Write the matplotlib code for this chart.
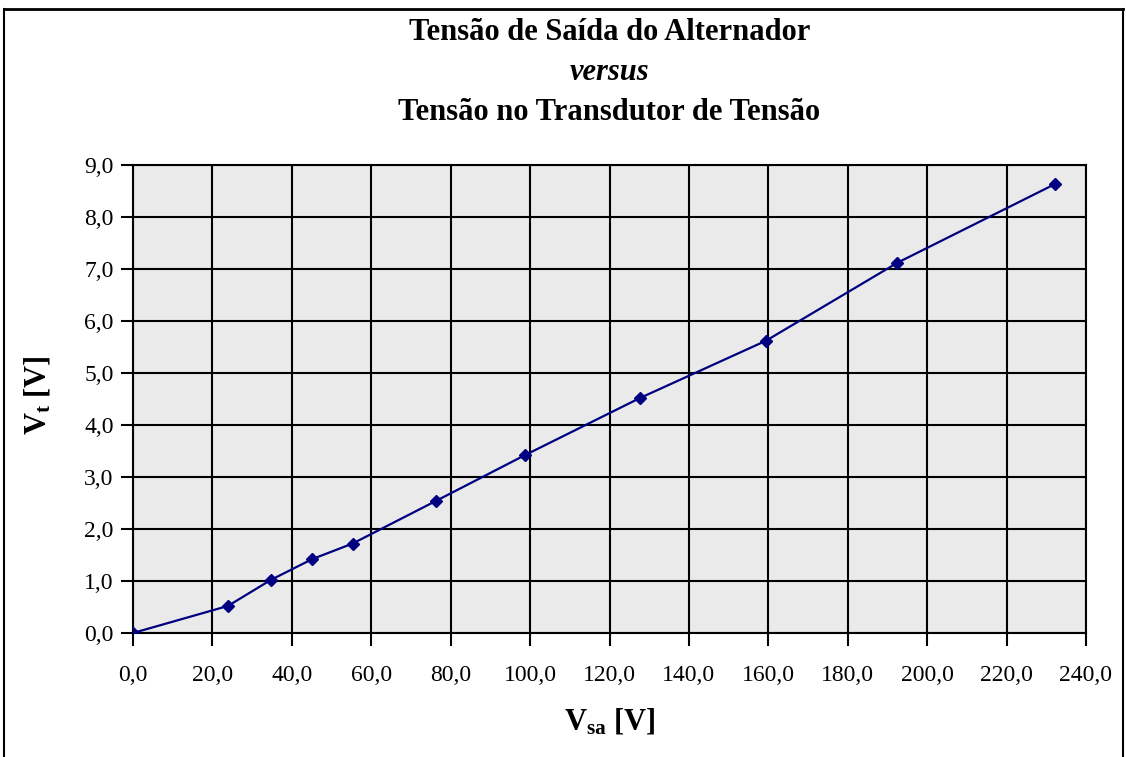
import matplotlib
matplotlib.use("Agg")
import matplotlib.pyplot as plt
from matplotlib.ticker import FuncFormatter, MultipleLocator
from matplotlib.lines import Line2D

vsa = [0.0, 23.9, 34.7, 45.1, 55.3, 76.3, 98.7, 127.7, 159.4, 192.5, 232.1]
vt = [0.0, 0.52, 1.02, 1.42, 1.72, 2.54, 3.42, 4.52, 5.62, 7.12, 8.63]
title_lines = ["Tensão de Saída do Alternador", "versus", "Tensão no Transdutor de Tensão"]

plt.rcParams['font.family'] = ['Liberation Serif', 'DejaVu Serif']
plt.rcParams['mathtext.fontset'] = 'custom'
plt.rcParams['mathtext.rm'] = 'Liberation Serif'
plt.rcParams['mathtext.bf'] = 'Liberation Serif:bold'
plt.rcParams['mathtext.it'] = 'Liberation Serif:italic'

W, H = 1126, 757
fig = plt.figure(figsize=(W / 100, H / 100), dpi=100)
fig.patch.set_facecolor('white')

l, r, b, t = 133, 1086, 633, 165
ax = fig.add_axes([l / W, 1 - b / H, (r - l) / W, (b - t) / H])
ax.set_facecolor('#eaeaea')
ax.plot(vsa, vt, color='#000080', lw=1.6, marker='D', ms=6.5, mfc='#000080', mec='#000080', zorder=3)

ax.set_xlim(0, 240)
ax.set_ylim(0, 9)
ax.xaxis.set_major_locator(MultipleLocator(20))
ax.yaxis.set_major_locator(MultipleLocator(1))
fmt = FuncFormatter(lambda v, p: f"{v:.1f}".replace('.', ','))
ax.xaxis.set_major_formatter(fmt)
ax.yaxis.set_major_formatter(fmt)
ax.grid(True, color='black', lw=1.5)
ax.set_axisbelow(True)
for s in ax.spines.values():
    s.set_color('black')
    s.set_linewidth(1.5)
ax.tick_params(axis='both', direction='out', length=9, width=1.5, color='black', labelsize=17, pad=5)
ax.tick_params(axis='x', pad=14)

cx = (l + r) / 2 / W
fig.text(cx, 1 - 33 / H, title_lines[0], ha='center', va='center', fontsize=22, fontweight='bold')
fig.text(cx, 1 - 73 / H, title_lines[1], ha='center', va='center', fontsize=22, fontweight='bold', style='italic')
fig.text(cx, 1 - 113 / H, title_lines[2], ha='center', va='center', fontsize=22, fontweight='bold')

fig.text(cx, 1 - 722 / H, r'$\mathbf{V_{sa}}$ [V]', ha='center', va='center', fontsize=22, fontweight='bold')
fig.text(38 / W, 1 - 395 / H, r'$\mathbf{V_{t}}$ [V]', ha='center', va='center', fontsize=22, fontweight='bold', rotation=90)

# outer frame
fig.add_artist(Line2D([4 / W, 4 / W], [0, 1 - 9 / H], color='black', lw=1.5, transform=fig.transFigure))
fig.add_artist(Line2D([4 / W, 1123 / W], [1 - 9 / H, 1 - 9 / H], color='black', lw=2, transform=fig.transFigure))
fig.add_artist(Line2D([1123 / W, 1123 / W], [0, 1 - 9 / H], color='black', lw=1.5, transform=fig.transFigure))

fig.savefig('out.png', dpi=100)
